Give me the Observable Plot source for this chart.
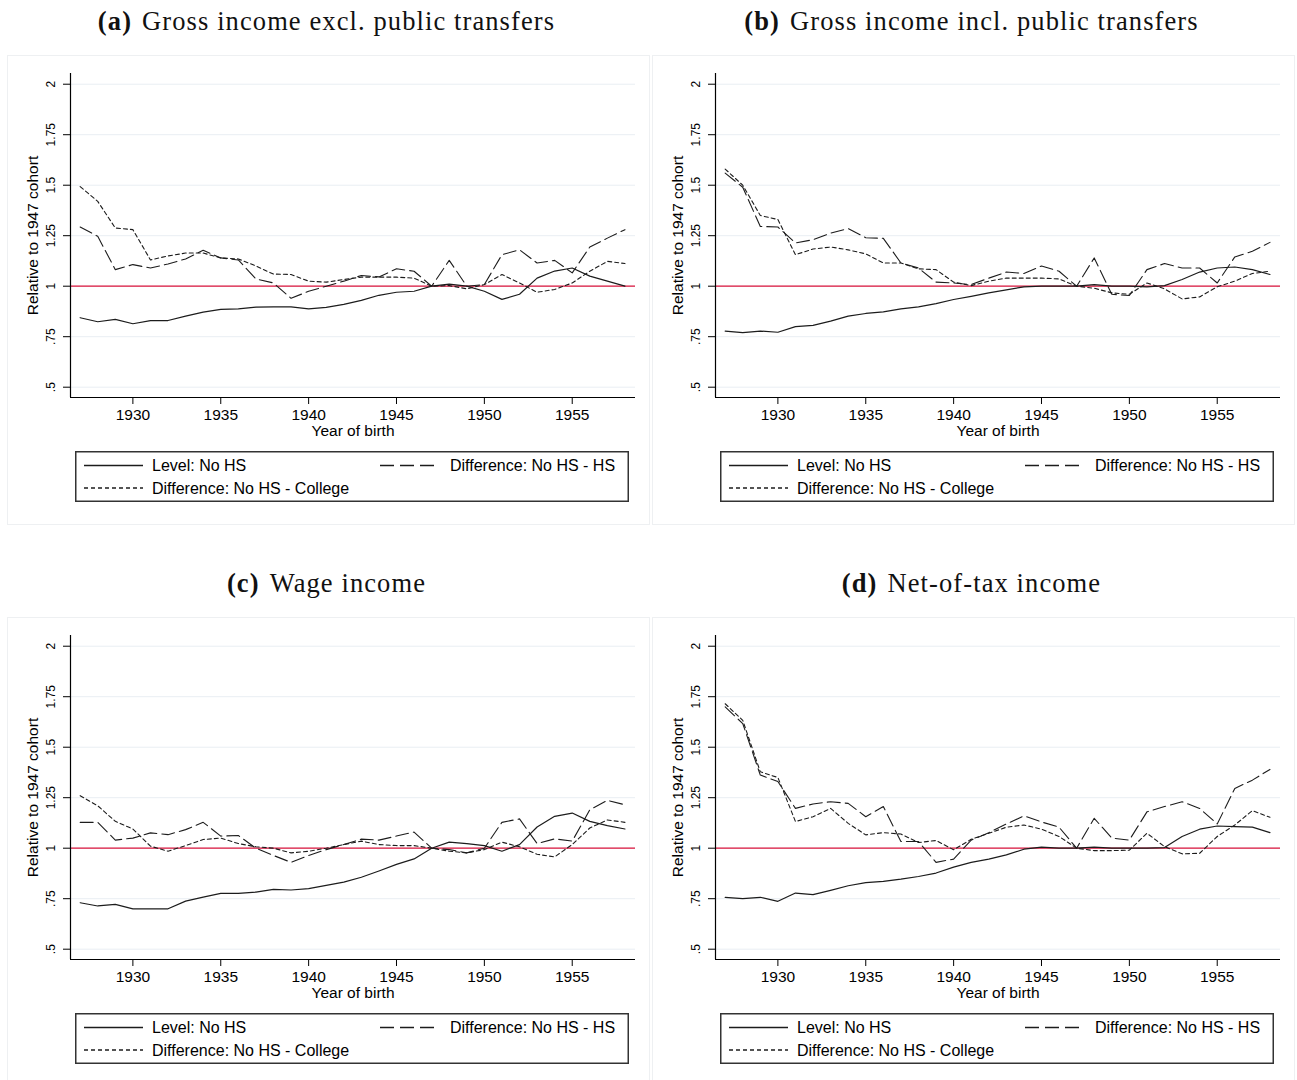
<!DOCTYPE html>
<html>
<head>
<meta charset="utf-8">
<script src="https://cdn.jsdelivr.net/npm/d3@7"></script>
<script src="https://cdn.jsdelivr.net/npm/@observablehq/plot@0.6"></script>
<style>
  html, body { margin: 0; padding: 0; background: #fff; }
  body { width: 1297px; height: 1080px; position: relative; overflow: hidden; font-family: "Liberation Sans", Arial, sans-serif; }
  .panel { position: absolute; width: 650px; height: 562px; }
  .title { position: absolute; left: 0; top: 4px; width: 653px; text-align: center; font-family: "Liberation Serif", "Times New Roman", serif; font-size: 26.5px; line-height: 34px; letter-spacing: 1.1px; color: #111; white-space: nowrap; }
  .title b { margin-right: 10px; }
  .box { position: absolute; left: 7px; top: 55px; width: 643px; height: 470px; border: 1px solid #eef0f2; box-sizing: border-box; }
  .legend { position: absolute; left: 75px; top: 451px; }
</style>
</head>
<body>
<script>
// ---------- data ----------
const years = d3.range(1927, 1959);
const xTicks = [1930, 1935, 1940, 1945, 1950, 1955];
const yTicks = [2, 1.75, 1.5, 1.25, 1, 0.75, 0.5];
const yTickLabels = ["2", "1.75", "1.5", "1.25", "1", ".75", ".5"];
const seriesNames = ["Level: No HS", "Difference: No HS - HS", "Difference: No HS - College"];
const titlesBold = ["(a)", "(b)", "(c)", "(d)"];
const titlesText = ["Gross income excl. public transfers", "Gross income incl. public transfers", "Wage income", "Net-of-tax income"];

// Panel (a)
const levelA = [0.844, 0.824, 0.836, 0.814, 0.83, 0.83, 0.852, 0.872, 0.885, 0.888, 0.896, 0.898, 0.898, 0.888, 0.895, 0.91, 0.93,
                0.955, 0.97, 0.975, 1.0, 1.01, 1.0, 0.975, 0.935, 0.96, 1.04, 1.075, 1.09, 1.05, 1.025, 1.0];
const diffHSA = [1.293, 1.247, 1.082, 1.107, 1.09, 1.11, 1.135, 1.178, 1.14, 1.13, 1.036, 1.016, 0.94, 0.975, 1.0, 1.025, 1.053,
                 1.046, 1.086, 1.074, 1.0, 1.128, 1.0, 1.008, 1.156, 1.18, 1.115, 1.128, 1.066, 1.194, 1.238, 1.28];
const diffColA = [1.493, 1.42, 1.288, 1.28, 1.13, 1.15, 1.164, 1.164, 1.14, 1.135, 1.1, 1.06, 1.058, 1.025, 1.02, 1.033, 1.045,
                  1.045, 1.045, 1.04, 1.0, 1.003, 0.987, 1.008, 1.058, 1.016, 0.97, 0.984, 1.016, 1.074, 1.123, 1.112];
// Panel (b)
const levelB = [0.778, 0.77, 0.778, 0.772, 0.80, 0.806, 0.827, 0.852, 0.865, 0.873, 0.888, 0.898, 0.914, 0.934, 0.95, 0.967, 0.982,
                0.997, 1.0, 1.0, 1.0, 1.008, 1.0, 1.0, 0.997, 1.003, 1.033, 1.07, 1.09, 1.095, 1.082, 1.058];
const diffHSB = [1.56, 1.49, 1.296, 1.293, 1.214, 1.23, 1.263, 1.285, 1.24, 1.237, 1.115, 1.09, 1.02, 1.016, 1.008, 1.04, 1.07,
                 1.063, 1.1, 1.074, 1.0, 1.14, 0.96, 0.954, 1.082, 1.112, 1.09, 1.09, 1.016, 1.145, 1.173, 1.217];
const diffColB = [1.58, 1.5, 1.35, 1.33, 1.156, 1.184, 1.194, 1.18, 1.16, 1.115, 1.115, 1.086, 1.082, 1.02, 1.003, 1.025, 1.04,
                  1.04, 1.04, 1.036, 1.0, 0.99, 0.967, 0.96, 1.016, 0.987, 0.937, 0.947, 0.997, 1.025, 1.063, 1.074];
// Panel (c)
const levelC = [0.73, 0.714, 0.722, 0.70, 0.70, 0.70, 0.738, 0.758, 0.776, 0.776, 0.783, 0.796, 0.793, 0.80, 0.816, 0.832, 0.856,
                0.887, 0.92, 0.947, 1.0, 1.03, 1.023, 1.013, 0.985, 1.018, 1.105, 1.158, 1.174, 1.133, 1.112, 1.095];
const diffHSC = [1.128, 1.128, 1.04, 1.05, 1.076, 1.067, 1.092, 1.128, 1.06, 1.063, 1.0, 0.964, 0.93, 0.964, 0.993, 1.018, 1.045,
                 1.04, 1.06, 1.08, 1.0, 0.993, 0.977, 1.0, 1.128, 1.145, 1.023, 1.046, 1.035, 1.19, 1.237, 1.215];
const diffColC = [1.26, 1.21, 1.133, 1.095, 1.01, 0.985, 1.013, 1.043, 1.05, 1.023, 1.007, 1.0, 0.977, 0.985, 1.0, 1.018, 1.035,
                  1.018, 1.013, 1.013, 1.0, 0.985, 0.977, 0.993, 1.03, 1.007, 0.97, 0.957, 1.018, 1.1, 1.14, 1.128];
// Panel (d)
const levelD = [0.757, 0.75, 0.757, 0.737, 0.778, 0.77, 0.791, 0.814, 0.83, 0.836, 0.847, 0.86, 0.877, 0.906, 0.93, 0.946, 0.967,
                0.995, 1.005, 1.0, 1.0, 1.005, 1.0, 1.0, 1.0, 1.003, 1.058, 1.094, 1.11, 1.107, 1.104, 1.077];
const diffHSD = [1.7, 1.617, 1.362, 1.33, 1.197, 1.219, 1.23, 1.222, 1.156, 1.206, 1.033, 1.033, 0.93, 0.946, 1.04, 1.077, 1.12,
                 1.16, 1.13, 1.104, 1.0, 1.148, 1.05, 1.04, 1.18, 1.206, 1.23, 1.197, 1.12, 1.296, 1.337, 1.39];
const diffColD = [1.715, 1.633, 1.378, 1.35, 1.132, 1.156, 1.197, 1.123, 1.066, 1.077, 1.07, 1.028, 1.038, 0.992, 1.044, 1.074, 1.104,
                  1.115, 1.094, 1.058, 1.0, 0.988, 0.988, 0.99, 1.074, 1.008, 0.972, 0.975, 1.058, 1.115, 1.186, 1.153];

const panels = [
  {level: levelA, hs: diffHSA, col: diffColA, left: 0, top: 0},
  {level: levelB, hs: diffHSB, col: diffColB, left: 645, top: 0},
  {level: levelC, hs: diffHSC, col: diffColC, left: 0, top: 562},
  {level: levelD, hs: diffHSD, col: diffColD, left: 645, top: 562}
];

// ---------- style ----------
const xDomain = [1926.45, 1958.6];
const yDomain = [0.449, 2.053];
const lineColor = "#1c1c1c";
const gridColor = "#e9eef3";
const redColor = "#dc143c";
const longDash = "13,5";
const shortDash = "4,3";
const tickFmt = d => yTickLabels[yTicks.indexOf(d)];

function makePlot(p) {
  const rows = years.map((year, i) => ({year, level: p.level[i], hs: p.hs[i], col: p.col[i]}));
  return Plot.plot({
    width: 645,
    height: 400,
    marginLeft: 70,
    marginRight: 10,
    marginTop: 18,
    marginBottom: 58,
    style: {fontFamily: "'Liberation Sans', Arial, sans-serif", fontSize: "15.5px", color: "#000", background: "transparent", overflow: "visible"},
    x: {domain: xDomain},
    y: {domain: yDomain},
    marks: [
      Plot.ruleY(yTicks, {stroke: gridColor, strokeWidth: 1}),
      Plot.ruleY([1], {stroke: redColor, strokeWidth: 1.3}),
      Plot.line(rows, {x: "year", y: "col", stroke: lineColor, strokeWidth: 1.1, strokeDasharray: shortDash}),
      Plot.line(rows, {x: "year", y: "hs", stroke: lineColor, strokeWidth: 1.1, strokeDasharray: longDash}),
      Plot.line(rows, {x: "year", y: "level", stroke: lineColor, strokeWidth: 1.2}),
      Plot.ruleX([xDomain[0]], {stroke: "#000", strokeWidth: 1.2}),
      Plot.ruleY([yDomain[0]], {stroke: "#000", strokeWidth: 1.2}),
      Plot.axisY({ticks: yTicks, tickSize: 7, tickFormat: () => "", label: null, stroke: "#000"}),
      Plot.text(yTicks, {y: d => d, frameAnchor: "left", dx: -19, rotate: -90, textAnchor: "middle", lineAnchor: "middle", text: tickFmt, fontSize: 12, fill: "#000"}),
      Plot.axisX({ticks: xTicks, tickSize: 7, tickPadding: 4, tickFormat: d => String(d), label: null, fontSize: 15.5, stroke: "#000"}),
      Plot.text(["Year of birth"], {frameAnchor: "bottom", dy: 27, textAnchor: "middle", lineAnchor: "top", text: d => d, fontSize: 15.5, fill: "#000"}),
      Plot.text(["Relative to 1947 cohort"], {frameAnchor: "left", dx: -37, rotate: -90, textAnchor: "middle", lineAnchor: "middle", text: d => d, fontSize: 15.5, fill: "#000"})
    ]
  });
}

function makeLegend() {
  const ns = "http://www.w3.org/2000/svg";
  const svg = document.createElementNS(ns, "svg");
  svg.setAttribute("width", 554);
  svg.setAttribute("height", 51);
  svg.setAttribute("class", "legend");
  const items = [
    {x1: 9, x2: 68, y: 14.5, dash: null, tx: 77, label: seriesNames[0]},
    {x1: 305, x2: 365, y: 14.5, dash: "14,6", tx: 375, label: seriesNames[1]},
    {x1: 9, x2: 68, y: 37, dash: "4,3", tx: 77, label: seriesNames[2]}
  ];
  const rect = document.createElementNS(ns, "rect");
  rect.setAttribute("x", 0.75); rect.setAttribute("y", 0.75);
  rect.setAttribute("width", 552.5); rect.setAttribute("height", 49.5);
  rect.setAttribute("fill", "#fff"); rect.setAttribute("stroke", "#333"); rect.setAttribute("stroke-width", 1.5);
  svg.appendChild(rect);
  for (const it of items) {
    const l = document.createElementNS(ns, "line");
    l.setAttribute("x1", it.x1); l.setAttribute("x2", it.x2);
    l.setAttribute("y1", it.y); l.setAttribute("y2", it.y);
    l.setAttribute("stroke", lineColor); l.setAttribute("stroke-width", 1.3);
    if (it.dash) l.setAttribute("stroke-dasharray", it.dash);
    svg.appendChild(l);
    const t = document.createElementNS(ns, "text");
    t.setAttribute("x", it.tx); t.setAttribute("y", it.y);
    t.setAttribute("dy", "0.36em");
    t.setAttribute("font-size", 16);
    t.setAttribute("font-family", "'Liberation Sans', Arial, sans-serif");
    t.setAttribute("fill", "#000");
    t.textContent = it.label;
    svg.appendChild(t);
  }
  return svg;
}

panels.forEach((p, i) => {
  const div = document.createElement("div");
  div.className = "panel";
  div.style.left = p.left + "px";
  div.style.top = p.top + "px";
  const box = document.createElement("div");
  box.className = "box";
  div.appendChild(box);
  const title = document.createElement("div");
  title.className = "title";
  const b = document.createElement("b");
  b.textContent = titlesBold[i];
  title.appendChild(b);
  title.appendChild(document.createTextNode(titlesText[i]));
  div.appendChild(title);
  const plot = makePlot(p);
  plot.style.position = "absolute";
  plot.style.left = "0px";
  plot.style.top = "55px";
  div.appendChild(plot);
  div.appendChild(makeLegend());
  document.body.appendChild(div);
});
</script>
</body>
</html>
